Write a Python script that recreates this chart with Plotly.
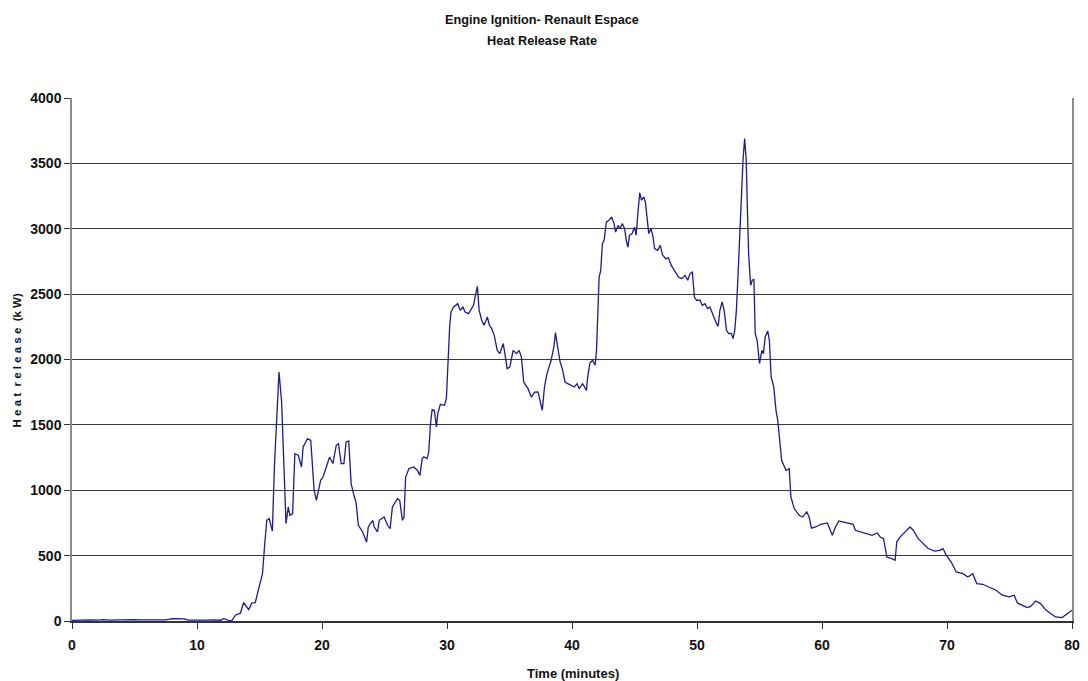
import plotly.graph_objects as go

time_min = [
    0, 0.5, 1, 1.5, 2, 2.5, 3, 3.5, 4, 4.5, 5, 5.5, 6, 6.5, 7, 7.5, 8.0, 8.5, 9.0, 9.3,
    9.8, 10.3, 10.8, 11.3, 11.9, 12.1, 12.3, 12.5, 12.8,
    13.07, 13.3, 13.47, 13.73, 13.95, 14.13, 14.39, 14.66, 14.87, 15.05, 15.24, 15.40,
    15.58, 15.77, 16.03, 16.19, 16.38, 16.56, 16.77, 16.95, 17.12, 17.30, 17.43, 17.65,
    17.83, 18.10, 18.36, 18.49, 18.84, 19.10, 19.23, 19.37, 19.55, 19.74, 19.89, 20.08,
    20.34, 20.61, 20.87, 21.14, 21.32, 21.53, 21.75, 21.93, 22.14, 22.33, 22.59, 22.72,
    22.91, 23.25, 23.57, 23.70, 24.05, 24.18, 24.44, 24.58, 24.97, 25.24, 25.45, 25.63,
    26.03, 26.22, 26.43, 26.56, 26.69, 26.96, 27.35, 27.62, 27.83, 28.02, 28.15, 28.41,
    28.54, 28.68, 28.81, 28.99, 29.15, 29.26, 29.47, 29.79, 29.95, 30.05, 30.21, 30.32,
    30.53, 30.85, 31.06, 31.27, 31.45, 31.72, 32.12, 32.25, 32.43, 32.57, 32.78, 32.96,
    33.23, 33.39, 33.57, 33.78, 34.02, 34.23, 34.50, 34.63, 34.81, 35.03, 35.29, 35.56,
    35.77, 35.95, 36.14, 36.48, 36.75, 37.01, 37.28, 37.62, 37.80, 38.0, 38.33, 38.55,
    38.68, 38.81, 39.05, 39.26, 39.44, 39.66, 39.92, 40.19, 40.40, 40.58, 40.85, 41.03,
    41.16, 41.24, 41.43, 41.64, 41.85, 41.96, 42.09, 42.17, 42.30, 42.43, 42.57, 42.75,
    42.96, 43.17, 43.36, 43.49, 43.68, 43.84, 44.02, 44.21, 44.34, 44.47, 44.60, 44.81,
    45.0, 45.13, 45.29, 45.42, 45.56, 45.74, 45.87, 46.01, 46.14, 46.32, 46.46, 46.61,
    46.85, 47.06, 47.25, 47.51, 47.72, 47.94, 48.20, 48.52, 48.78, 49.05, 49.26, 49.44,
    49.63, 49.79, 49.97, 50.24, 50.42, 50.63, 50.85, 51.03, 51.24, 51.43, 51.56, 51.69,
    51.83, 52.01, 52.17, 52.36, 52.54, 52.75, 52.88, 53.02, 53.15, 53.28, 53.41, 53.55,
    53.68, 53.81, 53.94, 54.02, 54.13, 54.29, 54.42, 54.55, 54.66, 54.81, 55.00, 55.19,
    55.32, 55.45, 55.66, 55.79, 55.93, 56.14, 56.32, 56.46, 56.59, 56.77, 57.12, 57.38,
    57.51, 57.78, 58.17, 58.44, 58.78, 58.97, 59.15, 59.50, 59.89, 60.16, 60.42, 60.56,
    60.82, 61.08, 61.35, 61.75, 62.14, 62.49, 62.67, 63.07, 63.60, 64.0, 64.44, 64.66,
    64.92, 65.19, 65.58, 65.85, 65.98, 66.24, 66.51, 66.77, 67.04, 67.30, 67.70, 68.10,
    68.49, 69.02, 69.42, 69.68, 69.95, 70.34, 70.74, 71.27, 71.67, 72.06, 72.38, 72.86,
    73.39, 73.92, 74.44, 74.97, 75.37, 75.63, 76.03, 76.43, 76.69, 77.09, 77.49, 77.88,
    78.28, 78.68, 79.21, 79.47, 79.74, 80.0,
]

heat_kw = [
    5, 8, 6, 9, 7, 10, 6, 8, 9, 7, 10, 8, 9, 7, 9, 8, 18, 20, 17, 6,
    5, 7, 6, 8, 6, 18, 15, 3, 5,
    44, 57, 60, 141, 110, 87, 138, 140, 222, 286, 362, 566,
    770, 783, 688, 1178, 1586, 1905, 1675, 1200, 745, 872, 808, 821,
    1280, 1268, 1178, 1331, 1395, 1382, 1204, 1000, 923, 1000, 1076, 1101,
    1178, 1254, 1204, 1344, 1357, 1204, 1204, 1369, 1377, 1051, 948, 910,
    732, 681, 604, 719, 770, 719, 681, 770, 795, 732, 707, 872,
    936, 923, 770, 795, 1101, 1166, 1178, 1153, 1114, 1242, 1255, 1242,
    1293, 1510, 1617, 1611, 1484, 1586, 1657, 1650, 1701, 1943, 2249, 2363,
    2402, 2427, 2376, 2402, 2363, 2351, 2414, 2478, 2560, 2376, 2300, 2262,
    2325, 2262, 2236, 2185, 2070, 2045, 2122, 2045, 1930, 1943, 2070, 2045,
    2070, 2019, 1828, 1777, 1713, 1751, 1752, 1611, 1790, 1892, 1994, 2096,
    2206, 2122, 1981, 1917, 1828, 1815, 1803, 1790, 1815, 1777, 1815, 1790,
    1764, 1854, 1973, 1994, 1956, 2070, 2376, 2631, 2682, 2886, 2912, 3052,
    3064, 3090, 3039, 2975, 3026, 3001, 3039, 3001, 2912, 2860, 2950, 2963,
    3013, 2950, 3141, 3274, 3218, 3243, 3205, 3064, 2963, 3001, 2950, 2848,
    2835, 2873, 2797, 2771, 2778, 2720, 2682, 2631, 2618, 2644, 2606, 2657,
    2669, 2478, 2453, 2453, 2415, 2427, 2389, 2402, 2351, 2300, 2274, 2255,
    2376, 2440, 2376, 2223, 2198, 2200, 2160, 2223, 2376, 2640, 2937, 3243,
    3523, 3689, 3523, 3192, 2810, 2567, 2606, 2612, 2198, 2147, 1969, 2070,
    2045, 2172, 2218, 2147, 1866, 1790, 1611, 1535, 1382, 1229, 1153, 1165,
    948, 860, 808, 795, 834, 795, 710, 719, 740, 745, 750, 719,
    655, 719, 765, 757, 750, 740, 694, 681, 663, 655, 673, 642,
    630, 489, 477, 464, 604, 642, 668, 694, 719, 694, 630, 592,
    554, 535, 540, 554, 502, 451, 375, 362, 337, 362, 286, 281,
    260, 235, 197, 184, 197, 138, 120, 102, 112, 153, 133, 87,
    57, 31, 26, 44, 69, 82,
]

x_ticks = [0, 10, 20, 30, 40, 50, 60, 70, 80]
y_ticks = [0, 500, 1000, 1500, 2000, 2500, 3000, 3500, 4000]

title_lines = ["Engine Ignition- Renault Espace", "Heat Release Rate"]
x_title = "Time (minutes)"
y_title = "H e a t  r e l e a s e  (k W)"

narrow = "Liberation Sans Narrow, Arial Narrow, Liberation Sans, Arial, sans-serif"
regular = "Liberation Sans, Arial, sans-serif"

W, H = 1088, 681
fig = go.Figure()
fig.add_trace(go.Scatter(
    x=time_min, y=heat_kw, mode="lines",
    line=dict(color="#1c1c8c", width=1.3),
    showlegend=False, hoverinfo="x+y",
))

annotations = []
for i, t in enumerate(title_lines):
    annotations.append(dict(
        text="<b>" + t + "</b>", xref="paper", yref="paper",
        x=(546 - 72) / 1008, y=(H - 60 - [20, 41][i]) / 523,
        xanchor="center", yanchor="middle", showarrow=False,
        font=dict(family=narrow, size=12.7, color="#111111"),
    ))
annotations.append(dict(
    text="<b>" + x_title + "</b>", xref="paper", yref="paper",
    x=(577 - 72) / 1008, y=(H - 60 - 673) / 523,
    xanchor="center", yanchor="middle", showarrow=False,
    font=dict(family=narrow, size=13, color="#111111"),
))
annotations.append(dict(
    text="<b>" + y_title + "</b>", xref="paper", yref="paper",
    x=(17 - 72) / 1008, y=(H - 60 - 360) / 523,
    xanchor="center", yanchor="middle", showarrow=False, textangle=-90,
    font=dict(family=regular, size=11.5, color="#111111"),
))

fig.update_layout(
    width=W, height=H,
    margin=dict(l=72, r=8, t=98, b=60),
    paper_bgcolor="white", plot_bgcolor="white",
    font=dict(family=narrow, size=14, color="#111111"),
    annotations=annotations,
)

fig.update_xaxes(
    range=[0, 80], tickmode="array", tickvals=x_ticks,
    ticktext=["<b>%d</b>" % v for v in x_ticks],
    showgrid=False, zeroline=False,
    showline=True, linecolor="#333333", linewidth=1.5,
    ticks="outside", ticklen=6, tickcolor="#333333",
    tickfont=dict(family=narrow, size=14, color="#111111"),
    ticklabelstandoff=4,
)

fig.update_yaxes(
    range=[0, 4000], tickmode="array", tickvals=y_ticks,
    ticktext=["<b>%d</b>" % v for v in y_ticks],
    showgrid=True, gridcolor="#3a3a3a", gridwidth=1,
    zeroline=False,
    showline=True, linecolor="#8a8a8a", linewidth=1.5, mirror=True,
    ticks="outside", ticklen=6, tickcolor="#333333",
    tickfont=dict(family=narrow, size=14, color="#111111"),
)

fig.write_html("out.html")
